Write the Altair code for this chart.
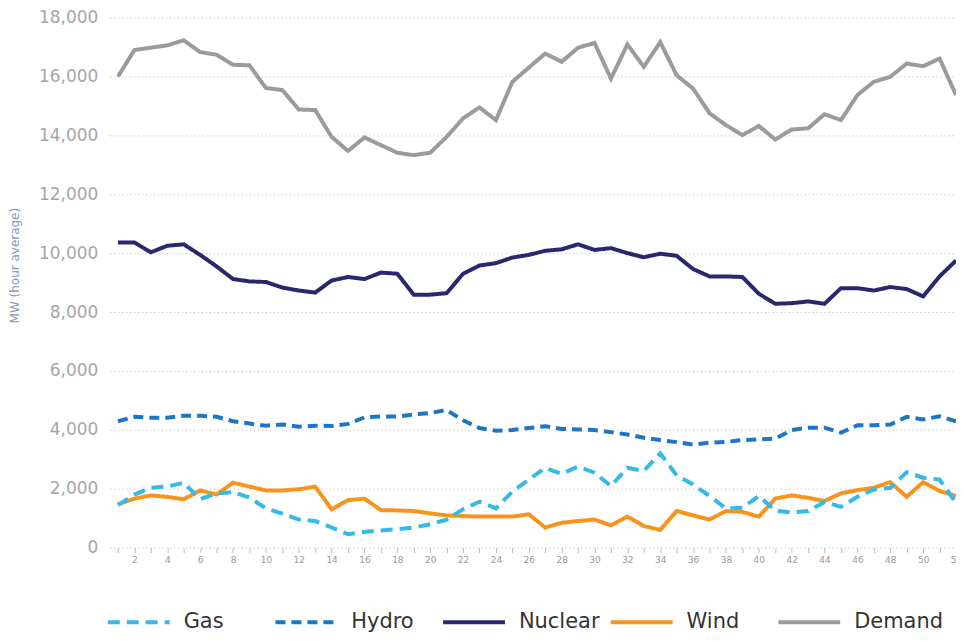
import altair as alt
import pandas as pd

weeks = list(range(1, 53))

gas = [1440, 1800, 2030, 2070, 2200, 1640, 1840, 1880, 1700, 1330,
       1150, 950, 900, 680, 450, 530, 580, 620, 680, 790,
       950, 1300, 1560, 1330, 1900, 2310, 2700, 2500, 2750, 2540,
       2090, 2710, 2600, 3200, 2450, 2140, 1750, 1330, 1350, 1750,
       1250, 1190, 1240, 1550, 1380, 1720, 1970, 2030, 2560, 2370,
       2310, 1520]

hydro = [4290, 4440, 4410, 4410, 4480, 4480, 4440, 4290, 4210, 4140,
         4180, 4100, 4140, 4130, 4200, 4420, 4450, 4450, 4520, 4570,
         4670, 4320, 4060, 3970, 3990, 4060, 4120, 4030, 4010, 3990,
         3920, 3840, 3730, 3650, 3580, 3500, 3560, 3590, 3650, 3670,
         3700, 3990, 4070, 4070, 3900, 4150, 4150, 4180, 4440, 4350,
         4460, 4290]

nuclear = [10360, 10360, 10030, 10250, 10300, 9940, 9550, 9120, 9040, 9020,
           8830, 8730, 8660, 9070, 9190, 9120, 9340, 9300, 8590, 8590,
           8640, 9300, 9580, 9660, 9850, 9940, 10080, 10130, 10300, 10110,
           10170, 10000, 9860, 9980, 9910, 9460, 9210, 9210, 9190, 8620,
           8280, 8300, 8360, 8280, 8810, 8810, 8730, 8850, 8780, 8530,
           9210, 9750]

wind = [1470, 1660, 1770, 1720, 1640, 1940, 1800, 2200, 2070, 1940,
        1940, 1980, 2070, 1300, 1610, 1660, 1270, 1260, 1240, 1160,
        1090, 1070, 1050, 1050, 1050, 1130, 680, 840, 900, 950,
        750, 1050, 730, 600, 1240, 1090, 950, 1240, 1210, 1050,
        1660, 1770, 1690, 1580, 1840, 1950, 2030, 2220, 1720, 2220,
        1920, 1750]

demand = [16000, 16900, 16980, 17060, 17230, 16830, 16740, 16400, 16380, 15610,
          15540, 14880, 14860, 13950, 13470, 13930, 13670, 13410, 13330, 13410,
          13950, 14580, 14950, 14520, 15820, 16300, 16780, 16500, 16980, 17140,
          15930, 17090, 16330, 17170, 16040, 15590, 14750, 14350, 14010, 14320,
          13860, 14200, 14240, 14720, 14520, 15370, 15820, 15990, 16440, 16350,
          16610, 15370]

series_names = ["Gas", "Hydro", "Nuclear", "Wind", "Demand"]
series_colors = ["#35b8ea", "#1c76c4", "#29286e", "#f7941d", "#9b9b9b"]
series_dashes = [[12, 7], [10, 6], [1, 0], [1, 0], [1, 0]]
series_widths = [4, 4, 3, 3, 4]

y_ticks = list(range(0, 18001, 2000))

frames = []
for name, vals in [("Demand", demand), ("Nuclear", nuclear), ("Hydro", hydro),
                   ("Wind", wind), ("Gas", gas)]:
    frames.append(pd.DataFrame({"Week": weeks, "MW": vals, "Source": name}))
df = pd.concat(frames, ignore_index=True)

legend = alt.Legend(
    orient="none", legendX=-4, legendY=573, direction="horizontal", title=None,
    symbolType="stroke", symbolSize=3844, symbolStrokeWidth=6,
    labelFont="DejaVu Sans", labelFontSize=21, labelColor="#333333",
    labelOffset=12, columnPadding=-21, padding=0, gridAlign="all",
    labelLimit=400,
)

chart = alt.Chart(df).mark_line().encode(
    x=alt.X(
        "Week:Q",
        scale=alt.Scale(domain=[0.5, 52], nice=False, zero=False),
        axis=alt.Axis(
            values=weeks, title=None, grid=False, domain=False,
            ticks=True, tickSize=5, tickColor="#bbbbbb",
            labelExpr="datum.value % 2 == 0 ? datum.label : ''",
            labelOverlap=False, labelFlush=False,
            labelFontSize=9, labelColor="#999999", labelPadding=3,
        ),
    ),
    y=alt.Y(
        "MW:Q",
        scale=alt.Scale(domain=[0, 18000], nice=False),
        axis=alt.Axis(
            values=y_ticks, format=",.0f", title="MW (hour average)",
            grid=True, gridDash=[1, 3], gridColor="#bbbbbb", gridWidth=1,
            domain=False, ticks=False,
            labelFontSize=17, labelColor="#a6a6a6", labelPadding=12,
            titleFontSize=12, titleFontWeight="normal", titleColor="#8796b5",
            titleX=-88, titleY=248,
        ),
    ),
    color=alt.Color("Source:N", scale=alt.Scale(domain=series_names, range=series_colors),
                    legend=legend),
    strokeDash=alt.StrokeDash("Source:N", scale=alt.Scale(domain=series_names, range=series_dashes),
                              legend=legend),
    strokeWidth=alt.StrokeWidth("Source:N", scale=alt.Scale(domain=series_names, range=series_widths),
                                legend=None),
).properties(
    width=848,
    height=531,
    autosize=alt.AutoSizeParams(type="none"),
    padding={"left": 102, "top": 9, "right": 0, "bottom": 86},
).configure_view(stroke=None).configure_axis(
    labelFont="DejaVu Sans", titleFont="DejaVu Sans"
)

chart.save("out.html", embed_options={"renderer": "svg", "actions": False})
